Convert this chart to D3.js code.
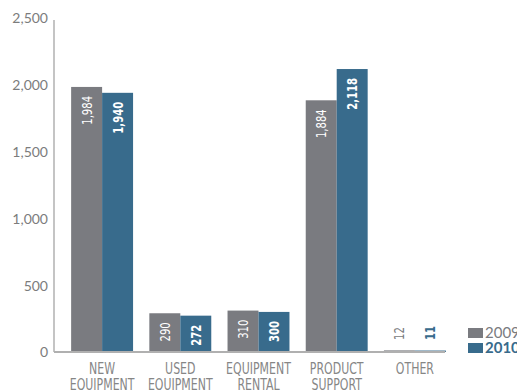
<!DOCTYPE html>
<html>
<head>
<meta charset="utf-8">
<script src="https://cdn.jsdelivr.net/npm/d3@7"></script>
<style>
  html, body { margin: 0; padding: 0; background: #fff; }
  svg { display: block; }
</style>
</head>
<body>
<svg id="chart" width="517" height="390"></svg>
<script>
// Revenue by segment, 2009 vs 2010
const categories = [["NEW", "EQUIPMENT"], ["USED", "EQUIPMENT"], ["EQUIPMENT", "RENTAL"], ["PRODUCT", "SUPPORT"], ["OTHER"]];
const series = ["2009", "2010"];
const values2009 = [1984, 290, 310, 1884, 12];
const values2010 = [1940, 272, 300, 2118, 11];
const yTicks = [0, 500, 1000, 1500, 2000, 2500];

const colors = { "2009": "#7a7b80", "2010": "#386b8c" };
const axisColor = "#b0b0b0";
const textColor = "#7c7c7c";
const narrow = "'DejaVu Sans Condensed', 'DejaVu Sans', sans-serif";

const svg = d3.select("#chart");

const keys = categories.map(c => c.join(" "));
const x = d3.scaleBand().domain(keys).range([63, 454]).paddingInner(0.208).paddingOuter(0.104);
const xs = d3.scaleBand().domain(series).range([0, x.bandwidth()]);
const y = d3.scaleLinear().domain([0, 2500]).range([352, 18]);

const rows = keys.map((k, i) => ({ key: k, lines: categories[i], "2009": values2009[i], "2010": values2010[i] }));

// Y axis: labels only, plus vertical rule
const yAxis = d3.axisLeft(y).tickValues(yTicks).tickSize(0).tickPadding(6).tickFormat(d3.format(","));
const gy = svg.append("g").attr("transform", "translate(54,0)").call(yAxis);
gy.select(".domain").remove();
gy.selectAll("text").attr("font-family", "Lato, sans-serif").attr("font-size", 14).attr("fill", textColor).attr("dy", "0.35em");
svg.append("line").attr("x1", 54).attr("x2", 54).attr("y1", 20).attr("y2", y(0))
  .attr("stroke", axisColor).attr("stroke-width", 1.5);

// Bars
const groups = svg.append("g").selectAll("g").data(rows).join("g")
  .attr("transform", d => `translate(${x(d.key)},0)`);

groups.selectAll("rect").data(d => series.map(s => ({ s, v: d[s] }))).join("rect")
  .attr("x", d => xs(d.s))
  .attr("y", d => y(d.v))
  .attr("width", xs.bandwidth())
  .attr("height", d => y(0) - y(d.v))
  .attr("fill", d => colors[d.s]);

// Value labels, rotated; inside bars that have room, above the tiny ones
groups.selectAll("text.val").data(d => series.map(s => ({ s, v: d[s] }))).join("text")
  .attr("class", "val")
  .each(function (d) {
    const inside = y(0) - y(d.v) > 20;
    const cx = xs(d.s) + xs.bandwidth() / 2;
    const endY = inside ? y(d.v) + 9 : y(0) - 12;
    d3.select(this)
      .attr("transform", `translate(${cx},${endY}) rotate(-90) scale(0.8,1)`)
      .attr("text-anchor", inside ? "end" : "start")
      .attr("dy", "0.36em")
      .attr("fill", inside ? "#fff" : colors[d.s])
      .attr("font-weight", d.s === "2010" ? "bold" : "normal")
      .attr("font-family", narrow)
      .attr("font-size", 14)
      .text(d3.format(",")(d.v));
  });

// X axis baseline
svg.append("line").attr("x1", 54).attr("x2", 445).attr("y1", y(0)).attr("y2", y(0))
  .attr("stroke", axisColor).attr("stroke-width", 2);

// Category labels, horizontally condensed
const xl = svg.append("g").selectAll("text").data(rows).join("text")
  .attr("transform", d => `translate(${x(d.key) + x.bandwidth() / 2},374) scale(0.74,1)`)
  .attr("text-anchor", "middle")
  .attr("font-family", narrow)
  .attr("font-size", 16.5)
  .attr("fill", "#868686");
xl.selectAll("tspan").data(d => d.lines).join("tspan")
  .attr("x", 0)
  .attr("dy", (d, i) => i === 0 ? 0 : 16)
  .text(d => d);

// Legend
const legend = svg.append("g").selectAll("g").data(series).join("g")
  .attr("transform", (d, i) => `translate(468,${328 + i * 15})`);
legend.append("rect").attr("width", 15).attr("height", 10).attr("fill", d => colors[d]);
legend.append("text").attr("x", 17).attr("y", 10)
  .attr("font-family", "Lato, sans-serif").attr("font-size", 15)
  .attr("font-weight", d => d === "2010" ? "bold" : "normal")
  .attr("fill", d => colors[d])
  .text(d => d);
</script>
</body>
</html>
